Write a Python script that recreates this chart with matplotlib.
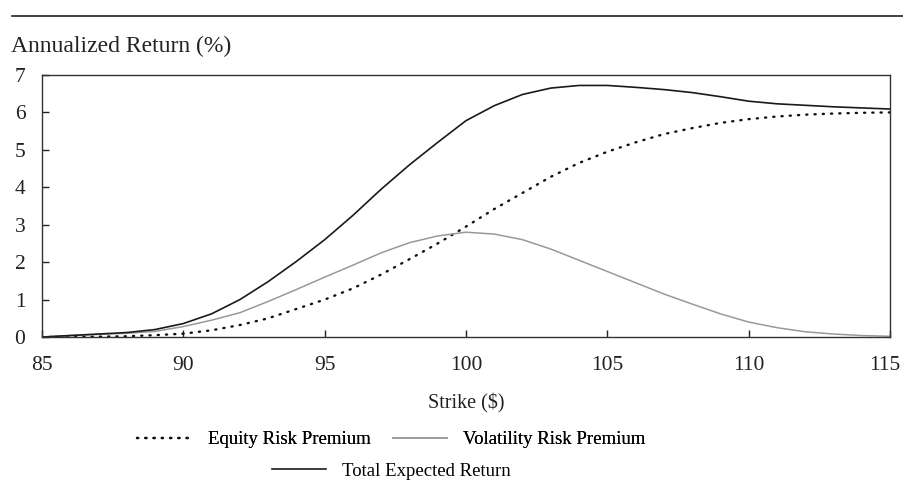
import matplotlib
matplotlib.use("Agg")
import matplotlib.pyplot as plt
import matplotlib.transforms as mtransforms
from matplotlib.lines import Line2D

plt.rcParams['font.family'] = ['Liberation Serif', 'DejaVu Serif']

strike = [85, 86, 87, 88, 89, 90, 91, 92, 93, 94, 95, 96, 97, 98, 99, 100,
          101, 102, 103, 104, 105, 106, 107, 108, 109, 110, 111, 112, 113, 114, 115]
equity = [0.0, 0.0, 0.01, 0.02, 0.05, 0.09, 0.18, 0.32, 0.5, 0.75, 1.0, 1.3, 1.67, 2.08, 2.5, 2.95,
          3.42, 3.85, 4.28, 4.65, 4.95, 5.2, 5.42, 5.58, 5.72, 5.82, 5.89, 5.94, 5.97, 5.99, 6.0]
volatility = [0.0, 0.04, 0.07, 0.1, 0.15, 0.28, 0.45, 0.65, 0.95, 1.27, 1.6, 1.92, 2.25, 2.52, 2.7, 2.8,
              2.75, 2.6, 2.35, 2.05, 1.75, 1.45, 1.15, 0.88, 0.62, 0.4, 0.25, 0.14, 0.08, 0.04, 0.02]
total = [0.0, 0.04, 0.08, 0.12, 0.2, 0.36, 0.62, 1.0, 1.48, 2.02, 2.6, 3.25, 3.95, 4.6, 5.2, 5.78,
         6.18, 6.48, 6.65, 6.72, 6.72, 6.67, 6.61, 6.53, 6.42, 6.3, 6.23, 6.19, 6.15, 6.12, 6.09]

fig = plt.figure(figsize=(9.04, 4.91), dpi=100)
ax = fig.add_axes([0.0465, 0.3136, 0.938, 0.5337])

dot_style = dict(color='#111111', lw=1.7, linestyle=(0, (0.5, 3.0)), dash_capstyle='round')
ax.plot(strike, equity, **dot_style)
ax.plot(strike, volatility, color='#999999', lw=1.1)
ax.plot(strike, total, color='#1a1a1a', lw=1.2)

ax.set_xlim(85, 115)
ax.set_ylim(0, 7)
ax.set_xticks([85, 90, 95, 100, 105, 110, 115])
ax.set_yticks(range(8))
ax.tick_params(direction='in', length=5, width=1, labelsize=15.5, colors='#222222')
ax.tick_params(axis='x', pad=14)
ax.tick_params(axis='y', pad=12)
for s in ax.spines.values():
    s.set_color('#333333')
    s.set_linewidth(1)
ax.set_xlabel('Strike ($)', fontsize=14.5, color='#222222', labelpad=13)

# nudge the last x label inward so it stays inside the canvas
fig.canvas.draw()
last = ax.get_xticklabels()[-1]
last.set_transform(last.get_transform() +
                   mtransforms.ScaledTranslation(-4 / 72, 0, fig.dpi_scale_trans))

fig.text(0.012, 0.905, 'Annualized Return (%)', fontsize=17, color='#222222', va='center')
fig.add_artist(Line2D([0.013, 1.0], [0.967, 0.967], color='#222222', lw=1.2))

h1 = Line2D([], [], **dot_style)
h2 = Line2D([], [], color='#999999', lw=1.1)
h3 = Line2D([], [], color='#1a1a1a', lw=1.2)
leg_kw = dict(frameon=False, fontsize=13.5, handlelength=2.9, handletextpad=0.85,
              borderpad=0, borderaxespad=0)
leg1 = fig.legend([h1, h2], ['Equity Risk Premium', 'Volatility Risk Premium'], ncol=2,
                  loc='center', bbox_to_anchor=(0.433, 0.104), columnspacing=1.2, **leg_kw)
leg2 = fig.legend([h3], ['Total Expected Return'], loc='center', bbox_to_anchor=(0.433, 0.040),
                  **leg_kw)
fig.add_artist(leg1)

fig.savefig('out.png', dpi=100)
